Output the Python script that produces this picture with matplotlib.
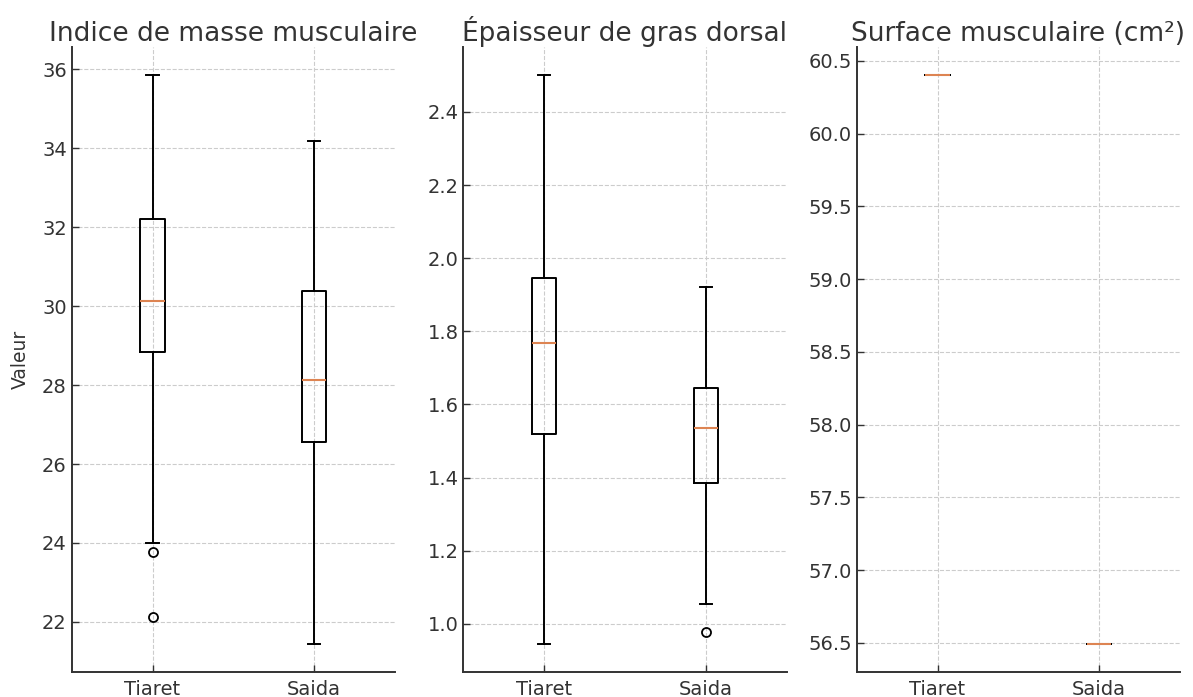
import matplotlib
matplotlib.use("Agg")
import matplotlib.pyplot as plt

groups = ["Tiaret", "Saida"]
titles = ["Indice de masse musculaire", "Épaisseur de gras dorsal", "Surface musculaire (cm²)"]

# Indice de masse musculaire: five-number summaries and outliers
imm_whislo = [24.0, 21.45]
imm_q1 = [28.84, 26.55]
imm_med = [30.14, 28.13]
imm_q3 = [32.2, 30.38]
imm_whishi = [35.85, 34.18]
imm_fliers = [[23.77, 22.13], []]

# Épaisseur de gras dorsal
egd_whislo = [0.946, 1.055]
egd_q1 = [1.519, 1.386]
egd_med = [1.768, 1.535]
egd_q3 = [1.945, 1.645]
egd_whishi = [2.50, 1.92]
egd_fliers = [[], [0.979]]

# Surface musculaire: one measurement per group
sm_values = [60.40, 56.495]

TEXT = "#333333"


def make_stats(lo, q1, med, q3, hi, fl):
    return [dict(label=g, whislo=lo[i], q1=q1[i], med=med[i], q3=q3[i],
                 whishi=hi[i], fliers=fl[i]) for i, g in enumerate(groups)]


stats_sets = [
    make_stats(imm_whislo, imm_q1, imm_med, imm_q3, imm_whishi, imm_fliers),
    make_stats(egd_whislo, egd_q1, egd_med, egd_q3, egd_whishi, egd_fliers),
    make_stats(sm_values, sm_values, sm_values, sm_values, sm_values, [[], []]),
]

plt.rcParams.update({
    "font.family": "DejaVu Sans",
    "text.color": TEXT,
    "axes.labelcolor": TEXT,
    "xtick.color": TEXT,
    "ytick.color": TEXT,
})

fig = plt.figure(figsize=(11.93, 6.97), dpi=100)
W, H = 1193.0, 697.0
lefts = [71.7, 463.3, 856.7]
ax_w = 323.3
top, bottom = 47.0, 672.0

for k, (stats, title) in enumerate(zip(stats_sets, titles)):
    ax = fig.add_axes([lefts[k] / W, 1 - bottom / H, ax_w / W, (bottom - top) / H])
    ax.bxp(stats, positions=[1, 2], widths=0.15,
           boxprops=dict(color="black", linewidth=1.4),
           whiskerprops=dict(color="black", linewidth=1.4),
           capprops=dict(color="black", linewidth=1.4),
           medianprops=dict(color="#dd8452", linewidth=1.5),
           flierprops=dict(marker="o", markerfacecolor="none",
                           markeredgecolor="black", markersize=6.5, markeredgewidth=1.3))
    ax.set_xlim(0.5, 2.5)
    ax.set_title(title, fontsize=19, color=TEXT, pad=4)
    ax.grid(True, linestyle="--", color="#cccccc", linewidth=0.8)
    ax.set_axisbelow(True)
    for s in ("top", "right"):
        ax.spines[s].set_visible(False)
    for s in ("left", "bottom"):
        ax.spines[s].set_color(TEXT)
        ax.spines[s].set_linewidth(1.4)
    ax.tick_params(axis="both", direction="in", labelsize=14, length=5, width=1)
    ax.tick_params(axis="x", pad=6)
    if k == 0:
        ax.set_ylabel("Valeur", fontsize=13.5, labelpad=9)

fig.savefig("out.png", dpi=100)
